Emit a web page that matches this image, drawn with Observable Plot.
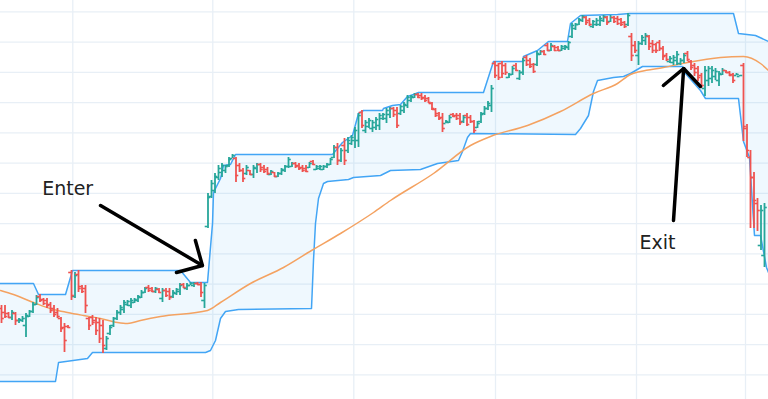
<!DOCTYPE html>
<html><head><meta charset="utf-8">
<script src="https://cdn.jsdelivr.net/npm/d3@7"></script>
<script src="https://cdn.jsdelivr.net/npm/@observablehq/plot@0.6"></script>
<style>html,body{margin:0;padding:0;background:#fff;overflow:hidden}</style>
</head><body><div id="chart"></div>
<script>
// OHLC bars (bar index = position in arrays)
const openP=[92,88,87,83,87,80,80,75,84,89,96,104,101,100,96,92,88,82,73,74,128,104,126,114,112,82,83,80,78,75,52,67,75,82,88,91,96,95,98,100,103,108,113,112,109,111,102,110,109,104,107,109,116,112,115,115,117,116,100,174,204,210,223,228,230,235,242,242,235,230,227,230,226,232,236,233,231,226,228,224,227,230,234,234,237,235,233,232,233,239,231,232,231,234,236,243,253,240,255,250,257,260,260,288,270,274,272,273,275,282,282,286,292,290,287,290,295,300,303,306,305,303,302,297,291,287,283,277,278,286,285,285,279,285,283,279,273,279,287,292,295,337,335,337,335,323,326,335,322,328,343,340,336,336,346,349,355,350,354,353,350,352,353,364,372,376,380,383,380,374,376,376,380,383,379,383,382,381,378,376,364,355,345,357,360,364,357,356,358,352,345,339,338,340,337,340,347,339,335,332,325,312,320,322,324,320,326,330,328,326,325,324,335,272,243,223,197,155,145];
const highP=[95,95,88,90,88,82,84,87,90,98,105,106,102,102,98,95,92,83,77,75,130,128,130,115,115,83,85,83,82,80,64,75,83,90,95,100,100,102,102,105,110,113,115,113,113,112,112,112,112,110,112,117,117,117,118,118,118,118,117,207,220,227,235,237,235,243,246,243,237,232,235,230,235,237,237,235,233,230,228,228,232,235,243,238,238,237,235,235,238,240,235,235,235,237,242,255,257,252,262,263,265,273,287,290,280,282,280,283,287,287,292,293,293,293,295,298,305,305,307,307,307,305,303,298,292,288,287,280,285,287,287,287,285,287,285,280,279,288,294,299,315,339,337,339,337,327,334,337,330,342,345,342,337,349,350,350,357,357,355,354,355,355,359,377,377,382,385,384,382,380,382,384,385,384,385,384,384,382,379,387,367,359,359,365,367,365,360,357,360,354,347,344,345,349,342,347,349,340,337,334,327,334,334,334,332,329,332,330,329,327,327,325,337,276,250,228,202,195,197];
const lowP=[77,82,82,80,75,77,78,63,83,87,95,98,95,92,87,83,82,68,48,72,100,102,108,107,87,70,75,65,57,47,50,65,73,80,85,87,94,92,97,98,102,107,108,108,107,107,98,103,100,102,105,105,112,110,115,113,115,103,92,172,202,207,220,223,227,233,242,218,228,218,225,225,222,227,228,227,225,225,223,223,225,228,232,233,232,230,228,228,232,235,230,230,230,232,235,242,235,238,235,247,255,252,253,272,267,272,268,270,270,280,277,282,283,272,285,287,292,298,302,302,300,298,297,290,283,280,268,277,277,283,280,275,277,274,277,267,272,277,285,290,288,322,320,322,325,322,325,329,320,325,334,332,327,334,345,345,349,349,349,349,349,350,350,362,370,375,378,375,374,372,374,374,378,375,378,377,375,374,372,374,339,347,335,355,355,350,347,347,349,340,339,337,335,335,335,337,339,330,324,319,312,304,314,317,320,314,325,327,324,317,325,324,259,243,172,172,169,150,133];
const closeP=[82,84,83,88,80,81,82,85,89,96,103,100,97,95,90,86,84,72,60,73,105,125,112,109,95,75,78,70,62,55,62,73,82,88,93,98,99,100,101,104,108,112,110,109,112,108,110,105,103,108,111,115,113,115,117,117,116,108,115,203,217,224,232,235,234,241,245,225,230,222,233,226,233,236,231,229,227,229,224,227,231,234,241,237,234,232,230,229,237,236,234,234,234,236,241,253,240,250,240,260,263,270,285,275,278,280,278,281,285,286,290,292,286,275,294,296,303,304,306,303,302,300,298,292,285,282,272,279,283,284,282,278,283,276,279,270,277,286,292,297,312,325,323,327,328,326,332,330,328,340,336,334,329,347,349,346,350,355,350,350,354,354,358,375,376,381,384,378,376,379,380,382,384,378,383,379,377,376,374,385,345,350,357,363,365,354,350,350,352,344,341,342,343,346,340,345,341,333,328,323,315,330,332,330,329,327,330,328,325,320,326,325,274,250,223,200,190,190,193];

// Channel upper / lower and moving average (vertices: bar index, price)
const upperX=[-0.29,9.14,10.57,18.29,20.29,51.14,54.0,58.86,60.29,60.57,62.57,63.43,65.43,66.86,94.57,97.43,100.29,102.0,103.43,108.86,109.14,111.71,114.0,116.0,117.71,119.14,137.71,140.57,148.86,149.14,153.14,156.29,161.71,162.57,165.43,176.0,179.43,209.14,210.57,215.43,219.14];
const upperP=[117,117,106,106,130,130,118,118,177,208,222,235,236,246,246,258,265,287,290,290,292,295,296,304,306,308,308,339,339,344,350,359,359,377,385,386,387,387,367,365,359];
const lowerX=[-0.29,15.43,16.29,24.57,26.0,58.29,59.71,61.14,62.57,64.0,67.71,88.57,89.14,89.71,90.57,92.0,93.14,99.14,100.57,108.29,111.14,119.71,124.57,130.57,131.71,133.14,134.0,164.0,165.43,167.71,169.14,170.29,174.86,177.71,179.71,183.14,194.57,195.43,199.71,201.14,210.57,212.0,213.71,215.14,216.86,218.57,219.14];
const lowerP=[19,19,38,42,48,48,50,60,82,89,91,92,140,177,202,217,219,221,223,225,230,231,237,240,249,263,267,266,272,285,309,320,323,324,327,334,334,327,310,302,302,259,243,165,165,133,128];
const maX=[-0.29,3.43,9.14,14.86,18.86,23.43,28.29,33.14,36.0,39.71,45.43,58.86,62.57,71.14,80.57,88.57,96.86,106.29,111.14,123.43,134.0,139.71,150.29,159.71,169.14,176.0,179.71,182.57,189.14,196.0,205.43,212.0,216.86,219.14];
const maP=[110,106,98,91,88,85,82,78,77,80,84,90,98,117,133,150,167,188,200,227,255,264,275,289,307,317,326,329,333,338,343,344,337,330];

// Gridlines
const gridY=[25.7,55.9,86.2,116.4,146.7,176.9,207.2,237.4,267.7,297.9,328.2,358.4,388.7];
const gridX=[20.37,60.37,100.66,141.14,181.43,212.57];

// Annotations
const enterShaft=[[28.3,195],[57.4,135]];
const enterHead=[[55.4,160],[57.4,135],[50.0,128]];
const exitShaft=[[192.0,180],[194.9,332]];
const exitHead=[[189.1,315],[194.9,332],[199.7,314]];
const labelText=["Enter","Exit"];
const labelX=[18.9,187.4];
const labelP=[212,158];

const GREEN="#26a69a", RED="#ef5350";
const bars=openP.map((o,i)=>({i,o,h:highP[i],l:lowP[i],c:closeP[i],up:closeP[i]>=o}));
const upBars=bars.filter(d=>d.up), dnBars=bars.filter(d=>!d.up);
const upper=upperX.map((x,k)=>({x,p:upperP[k]}));
const lower=lowerX.map((x,k)=>({x,p:lowerP[k]}));
const ma=maX.map((x,k)=>({x,p:maP[k]}));
const upFn=d3.scaleLinear(upperX,upperP), loFn=d3.scaleLinear(lowerX,lowerP);
const bandX=Array.from(new Set([...upperX,...lowerX])).sort((a,b)=>a-b);
const band=bandX.map(x=>({x,lo:loFn(x),hi:upFn(x)}));
const labels=labelText.map((t,k)=>({t,x:labelX[k],p:labelP[k]}));

function barMarks(data,color){
  return [
    Plot.ruleX(data,{x:"i",y1:"l",y2:"h",stroke:color,strokeWidth:1.8}),
    Plot.ruleY(data,{y:"o",x1:d=>d.i-0.8,x2:"i",stroke:color,strokeWidth:1.6}),
    Plot.ruleY(data,{y:"c",x1:"i",x2:d=>d.i+0.8,stroke:color,strokeWidth:1.6})
  ];
}

const chart=Plot.plot({
  width:768,height:399,margin:0,
  style:{background:"#fff",fontFamily:"DejaVu Sans"},
  x:{domain:[-1/3.5,767/3.5],axis:null},
  y:{domain:[1,400],axis:null},
  marks:[
    Plot.ruleY(gridY,{stroke:"#e8eff6",strokeWidth:1.3}),
    Plot.ruleX(gridX,{stroke:"#e8eff6",strokeWidth:1.3}),
    Plot.areaY(band,{x:"x",y1:"lo",y2:"hi",fill:"#2196f3",fillOpacity:0.07}),
    Plot.line(upper,{x:"x",y:"p",stroke:"#42a5f5",strokeWidth:1.5}),
    Plot.line(lower,{x:"x",y:"p",stroke:"#42a5f5",strokeWidth:1.5}),
    Plot.line(ma,{x:"x",y:"p",stroke:"#f4a261",strokeWidth:1.5,curve:"monotone-x"}),
    ...barMarks(upBars,GREEN),
    ...barMarks(dnBars,RED),
    Plot.line(enterShaft,{x:d=>d[0],y:d=>d[1],stroke:"#000",strokeWidth:3.5}),
    Plot.line(enterHead,{x:d=>d[0],y:d=>d[1],stroke:"#000",strokeWidth:3.5,strokeLinejoin:"miter"}),
    Plot.line(exitShaft,{x:d=>d[0],y:d=>d[1],stroke:"#000",strokeWidth:3.5}),
    Plot.line(exitHead,{x:d=>d[0],y:d=>d[1],stroke:"#000",strokeWidth:3.5,strokeLinejoin:"miter"}),
    Plot.text(labels,{x:"x",y:"p",text:"t",fontSize:19,fill:"#222",fontFamily:"DejaVu Sans"})
  ]
});
document.getElementById("chart").appendChild(chart);
</script>
</body></html>
